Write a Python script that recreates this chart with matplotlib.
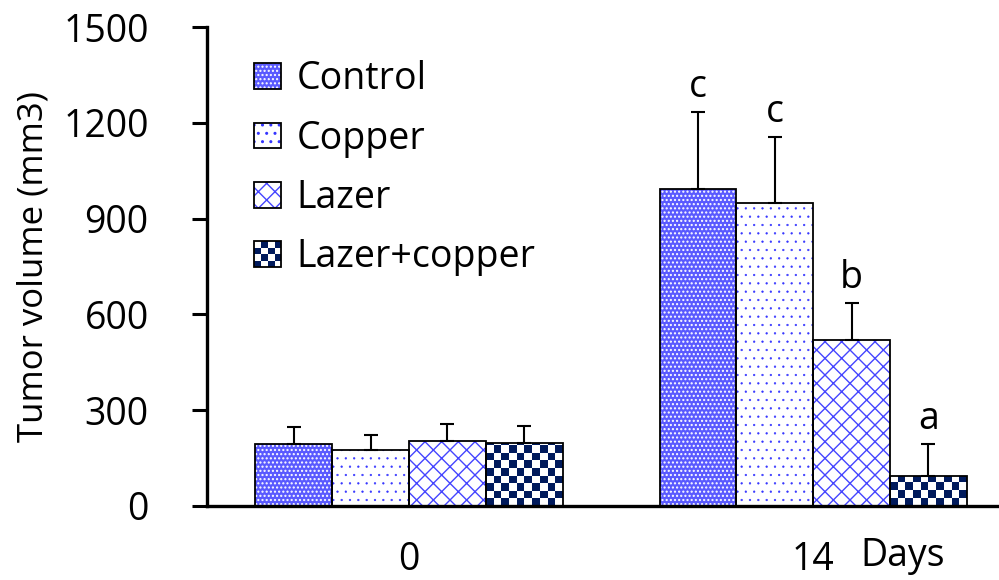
import numpy as np
import matplotlib
matplotlib.use("Agg")
import matplotlib.pyplot as plt
from matplotlib.patches import Patch, Rectangle
from matplotlib.legend_handler import HandlerBase
from matplotlib.colors import ListedColormap

plt.rcParams['font.family'] = ['Open Sans', 'DejaVu Sans']
plt.rcParams['hatch.linewidth'] = 1.0

days = ["0", "14"]
groups = ["Control", "Copper", "Lazer", "Lazer+copper"]
means = {
    "Control":      [194, 993],
    "Copper":       [175, 949],
    "Lazer":        [204, 520],
    "Lazer+copper": [197, 94],
}
errors = {
    "Control":      [53, 241],
    "Copper":       [47, 207],
    "Lazer":        [53, 116],
    "Lazer+copper": [53, 100],
}
letters = {
    "Control":      ["", "c"],
    "Copper":       ["", "c"],
    "Lazer":        ["", "b"],
    "Lazer+copper": ["", "a"],
}

NAVY = "#001a5c"
styles = {
    "Control":      dict(fc="#5a5aff", hatch="....", hc="white", hlw=1.0),
    "Copper":       dict(fc="white", hatch="..", hc="#3535ff", hlw=0.4),
    "Lazer":        dict(fc="white", hatch="xx", hc="#4545ff", hlw=1.0),
    "Lazer+copper": None,  # checkerboard, drawn below
}


class CheckerHandler(HandlerBase):
    def create_artists(self, legend, orig_handle, xdescent, ydescent,
                       width, height, fontsize, trans):
        n = 4
        cw, ch = width / n, height / n
        arts = []
        for i in range(n):
            for j in range(n):
                fc = NAVY if (i + j) % 2 == 0 else "white"
                arts.append(Rectangle((-xdescent + i * cw, -ydescent + j * ch),
                                      cw, ch, facecolor=fc, edgecolor="none",
                                      transform=trans))
        arts.append(Rectangle((-xdescent, -ydescent), width, height,
                              facecolor="none", edgecolor="black", lw=1.3,
                              transform=trans))
        return arts


W, H = 999, 580
fig = plt.figure(figsize=(W / 100, H / 100), dpi=100)
ax = fig.add_axes([207 / W, 1 - 506 / H, 1 - 207 / W, (506 - 27) / H])

XMIN, XMAX = -0.5, 1.46
YMAX = 1500

x = np.arange(len(days))
w = 0.19
offsets = (np.arange(len(groups)) - 1.5) * w

# checker cell size, ~7.6 px
ax_w_px = W - 207
ax_h_px = 506 - 27
cell_px = 7.6
cx = (XMAX - XMIN) * cell_px / ax_w_px
cy = YMAX * cell_px / ax_h_px
checker_cmap = ListedColormap(["white", NAVY])

handles = []
for k, g in enumerate(groups):
    xs = x + offsets[k]
    st = styles[g]
    if st is not None:
        with plt.rc_context({"hatch.linewidth": st["hlw"]}):
            ax.bar(xs, means[g], w, color=st["fc"], hatch=st["hatch"],
                   edgecolor=st["hc"], linewidth=0, zorder=1)
            handles.append((Patch(facecolor=st["fc"], hatch=st["hatch"],
                                  edgecolor=st["hc"], linewidth=0),
                            Patch(facecolor="none", edgecolor="black", lw=1.3)))
    else:
        clip = ax.bar(xs, means[g], w, color="none", linewidth=0, zorder=1)
        for rect, xc, h in zip(clip, xs, means[g]):
            nx = int(round(w / cx))
            ny = int(np.ceil(h / cy))
            ii, jj = np.indices((ny, nx))
            board = ((ii + jj) % 2 == 0).astype(float)[::-1]
            im = ax.imshow(board, cmap=checker_cmap, vmin=0, vmax=1,
                           extent=[xc - w / 2, xc + w / 2, 0, ny * cy],
                           interpolation="nearest", aspect="auto", zorder=1)
            im.set_clip_path(rect)
        handles.append(Patch(facecolor=NAVY))
    ax.bar(xs, means[g], w, fill=False, edgecolor="black", linewidth=1.3, zorder=2)
    ax.errorbar(xs, means[g], yerr=[np.zeros(len(days)), errors[g]], fmt="none",
                ecolor="black", elinewidth=1.5, capsize=5, capthick=1.5, zorder=3)
    for xi, m, e, lab in zip(xs, means[g], errors[g], letters[g]):
        if lab:
            ax.annotate(lab, (xi, m + e), xytext=(0, 4), textcoords="offset points",
                        ha="center", va="bottom", fontsize=27)

ax.set_xlim(XMIN, XMAX)
ax.set_ylim(0, YMAX)
ax.set_yticks([0, 300, 600, 900, 1200, 1500])
ax.set_xticks(x)
ax.set_xticklabels(days)
ax.tick_params(axis="y", direction="out", length=11, width=2.2, pad=31, labelsize=27)
ax.tick_params(axis="x", length=0, pad=25, labelsize=27)
for s in ["top", "right"]:
    ax.spines[s].set_visible(False)
for s in ["left", "bottom"]:
    ax.spines[s].set_linewidth(2.4)
ax.set_ylabel("Tumor volume (mm3)", fontsize=25, labelpad=9)

ax.legend(handles, groups, handler_map={handles[3]: CheckerHandler()},
          loc="upper left", bbox_to_anchor=(0.041, 0.962), frameon=False,
          fontsize=27, handlelength=0.72, handleheight=0.68,
          handletextpad=0.4, labelspacing=0.57, borderaxespad=0)

fig.text(903 / W, 1 - 556 / H, "Days", ha="center", va="center", fontsize=27)

fig.savefig("out.png", dpi=100)
